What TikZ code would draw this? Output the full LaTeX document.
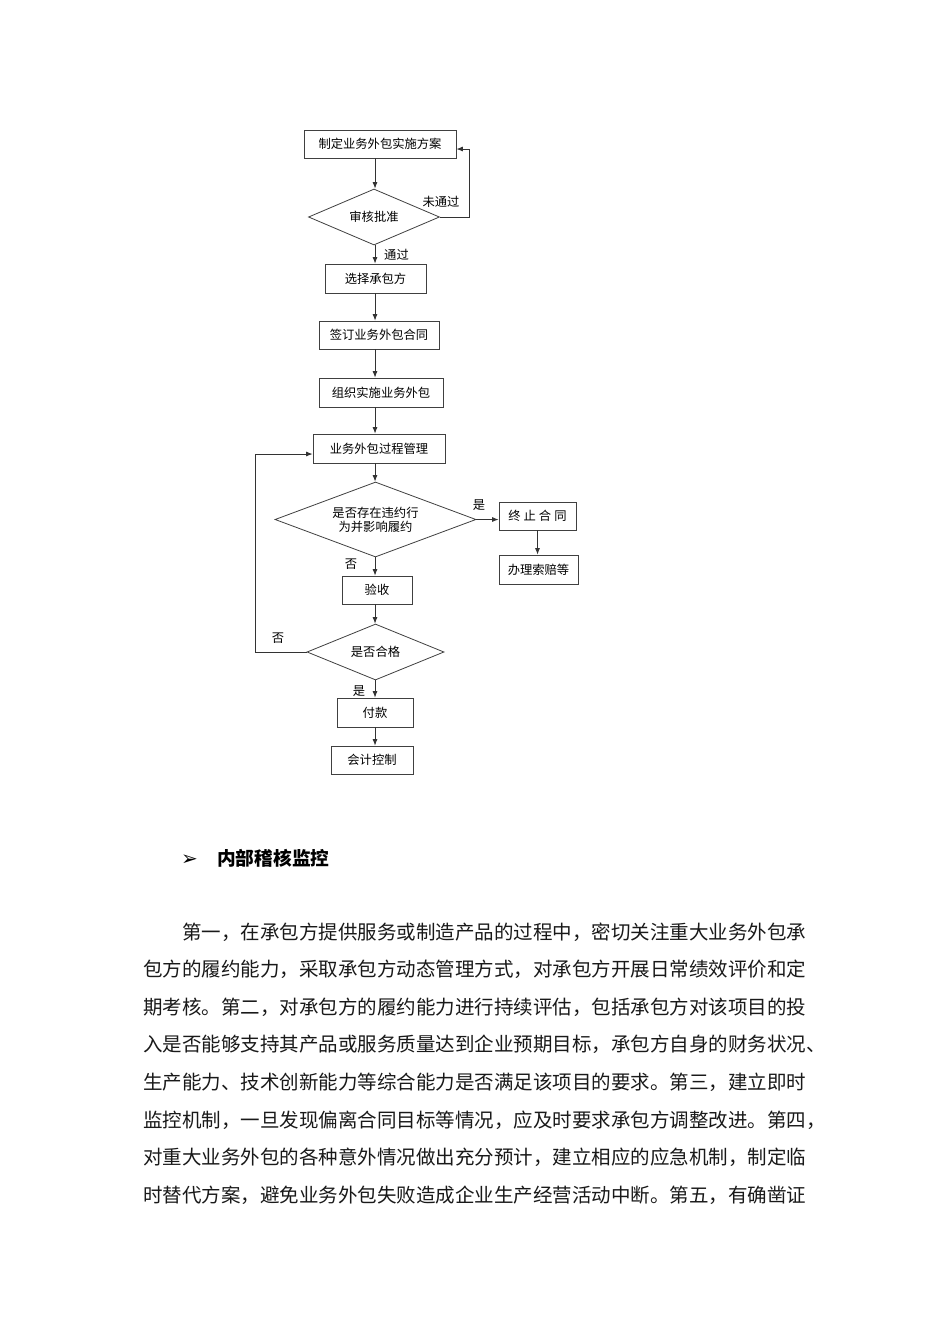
\documentclass[tikz,border=0pt]{standalone}
\usepackage{fontspec}
\setmainfont{Noto Sans CJK SC}
\newfontfamily\cjk{Noto Sans CJK SC}
\newfontfamily\dejavu{DejaVu Sans}
\usetikzlibrary{shapes.geometric,arrows.meta,calc}
\begin{document}
\begin{tikzpicture}[x=1pt,y=-1pt,
  flow/.style={font=\cjk\fontsize{12.3}{14}\selectfont, text=black},
  box/.style={flow, draw=black!75, line width=0.8pt, rectangle, inner sep=0pt, align=center},
  dia/.style={flow, draw=black!75, line width=0.8pt, diamond, inner sep=0pt, align=center},
  arr/.style={draw=black!80, line width=0.8pt, -{Latex[length=6.5pt,width=5pt]}},
  lbl/.style={flow, inner sep=0pt},
  para/.style={font=\cjk\fontsize{19.5}{20}\selectfont, anchor=base west, inner sep=0pt, text=black!90}]
\useasboundingbox (0,0) rectangle (950,1344);
\fill[white] (0,0) rectangle (950,1344);

% flowchart nodes
\node[box, minimum width=152pt, minimum height=28pt] (b1) at (380,144) {制定业务外包实施方案};
\node[dia, minimum width=131pt, minimum height=56pt, shape aspect=2.34] (dia1) at (374,217) {审核批准};
\node[box, minimum width=101pt, minimum height=29pt] (b2) at (375.5,278.5) {选择承包方};
\node[box, minimum width=120pt, minimum height=28pt] (b3) at (379,335) {签订业务外包合同};
\node[box, minimum width=124pt, minimum height=29pt] (b4) at (381,392.5) {组织实施业务外包};
\node[box, minimum width=132pt, minimum height=29pt] (b5) at (379,448.5) {业务外包过程管理};
\node[dia, minimum width=201pt, minimum height=75pt, shape aspect=2.68] (dia2) at (375.5,519.5) {是否存在违约行\\为并影响履约};
\node[box, minimum width=77pt, minimum height=28pt] (b6) at (537.5,516) {终\hspace{3pt}止\hspace{3pt}合\hspace{3pt}同};
\node[box, minimum width=79pt, minimum height=29pt] (b7) at (538.5,569.5) {办理索赔等};
\node[box, minimum width=70pt, minimum height=28pt] (b8) at (377,590) {验收};
\node[dia, minimum width=137pt, minimum height=56pt, shape aspect=2.45] (dia3) at (375.5,652) {是否合格};
\node[box, minimum width=76pt, minimum height=29pt] (b9) at (375,712.5) {付款};
\node[box, minimum width=82pt, minimum height=28pt] (b10) at (372,760) {会计控制};

% labels
\node[lbl] (lno1) at (441,202) {未通过};
\node[lbl] (lyes1) at (396.5,255) {通过};
\node[lbl] (lyes2) at (479,505) {是};
\node[lbl] (lno2) at (351,564) {否};
\node[lbl] (lno3) at (278,638) {否};
\node[lbl] (lyes3) at (359,691) {是};

% connectors
\coordinate (col) at (375,0);
\coordinate (r1) at (469,149);
\coordinate (l1) at (255,454);
\draw[arr] (b1.south -| col) -- (dia1.north -| col);
\draw[arr] (dia1.south -| col) -- (b2.north -| col);
\draw[arr] (b2.south -| col) -- (b3.north -| col);
\draw[arr] (b3.south -| col) -- (b4.north -| col);
\draw[arr] (b4.south -| col) -- (b5.north -| col);
\draw[arr] (b5.south -| col) -- (dia2.north -| col);
\draw[arr] (dia2.south -| col) -- (b8.north -| col);
\draw[arr] (b8.south -| col) -- (dia3.north -| col);
\draw[arr] (dia3.south -| col) -- (b9.north -| col);
\draw[arr] (b9.south -| col) -- (b10.north -| col);
\draw[arr] (dia1.east) -| (r1) -- (r1 -| b1.east);
\draw[arr] (dia3.west) -| (l1) -- (l1 -| b5.west);
\draw[arr] (dia2.east) -- (dia2.east -| b6.west);
\draw[arr] (b6.south) -- (b6.south |- b7.north);

% heading
\node[inner sep=0pt, anchor=base west, font=\dejavu\fontsize{20}{22}\selectfont] (hb) at (181,865) {➢};
\node[inner sep=0pt, anchor=base west, font=\cjk\bfseries\fontsize{18.7}{20}\selectfont] (h) at (217,865) {内部稽核监控};

% paragraph
\node[para] (p1) at (182,939) {第一，在承包方提供服务或制造产品的过程中，密切关注重大业务外包承};
\node[para] (p2) at (143,976.6) {包方的履约能力，采取承包方动态管理方式，对承包方开展日常绩效评价和定};
\node[para] (p3) at (143,1014.2) {期考核。第二，对承包方的履约能力进行持续评估，包括承包方对该项目的投};
\node[para] (p4) at (143,1051.8) {入是否能够支持其产品或服务质量达到企业预期目标，承包方自身的财务状况、};
\node[para] (p5) at (143,1089.4) {生产能力、技术创新能力等综合能力是否满足该项目的要求。第三，建立即时};
\node[para] (p6) at (143,1127) {监控机制，一旦发现偏离合同目标等情况，应及时要求承包方调整改进。第四，};
\node[para] (p7) at (143,1164.6) {对重大业务外包的各种意外情况做出充分预计，建立相应的应急机制，制定临};
\node[para] (p8) at (143,1202.2) {时替代方案，避免业务外包失败造成企业生产经营活动中断。第五，有确凿证};
\end{tikzpicture}
\end{document}
